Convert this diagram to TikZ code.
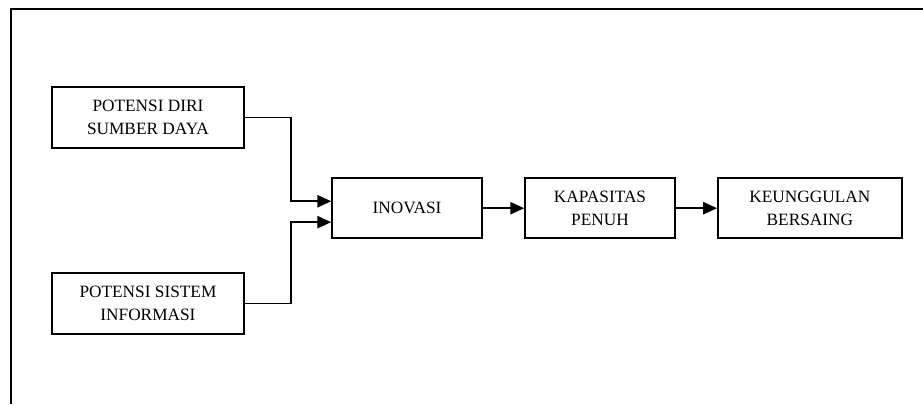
\documentclass[tikz,border=0pt]{standalone}
\usepackage{fontspec}
\setmainfont{Liberation Serif}
\usetikzlibrary{arrows.meta}
\tikzstyle{process} = [rectangle, minimum width=3.66cm, minimum height=1.46cm, text centered, align=center, draw=black, line width=1.1pt, font=\fontsize{12}{16}\selectfont]
\tikzstyle{potensi} = [process, minimum width=4.68cm, minimum height=1.49cm]
\tikzstyle{arrow} = [line width=1.1pt, -{Triangle[length=0.34cm, width=0.3cm]}]

\begin{document}
\begin{tikzpicture}[node distance=4.71cm]
    \useasboundingbox (0,0) rectangle (22.52,9.86);
    % frame, only left and top edges visible
    \draw [line width=1.3pt] (0.27,0) -- (0.27,9.64) -- (22.52,9.64);

    \node (diri) [potensi] at (3.61,6.99) {POTENSI DIRI\\SUMBER DAYA};
    \node (sistem) [potensi, below of=diri, yshift=0.18cm] {POTENSI SISTEM\\INFORMASI};
    \node (inovasi) [process] at (9.93,4.78) {INOVASI};
    \node (kapasitas) [process, right of=inovasi] {KAPASITAS\\PENUH};
    \node (unggul) [process, right of=kapasitas, xshift=0.41cm, minimum width=4.49cm] {KEUNGGULAN\\BERSAING};

    \draw [arrow] (diri.east) -- ++(1.13,0) |- ([yshift=0.17cm]inovasi.west);
    \draw [arrow] (sistem.east) -- ++(1.13,0) |- ([yshift=-0.34cm]inovasi.west);
    \draw [arrow] (inovasi) -- (kapasitas);
    \draw [arrow] (kapasitas) -- (unggul);
\end{tikzpicture}
\end{document}
